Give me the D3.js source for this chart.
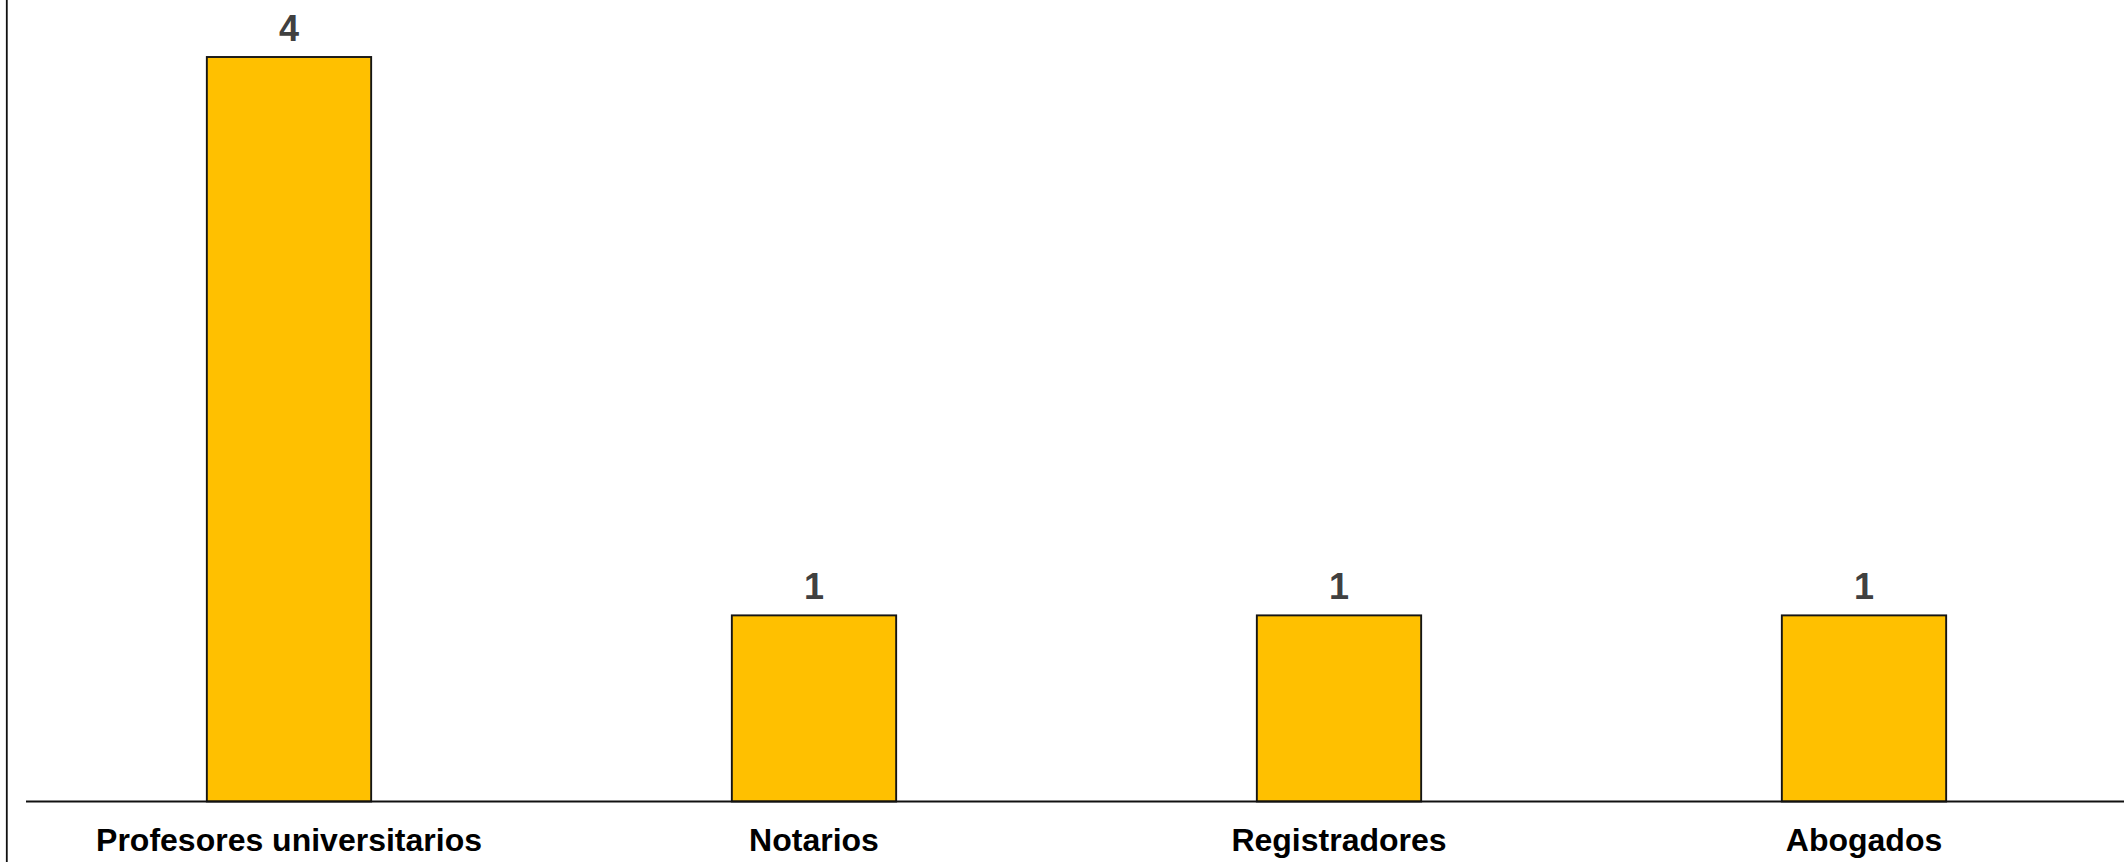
<!DOCTYPE html>
<html>
<head>
<meta charset="utf-8">
<script src="https://cdn.jsdelivr.net/npm/d3@7"></script>
<style>
  html, body { margin: 0; padding: 0; background: #ffffff; }
  svg { display: block; }
</style>
</head>
<body>
<div id="chart"></div>
<script>
const categories = ["Profesores universitarios", "Notarios", "Registradores", "Abogados"];
const values = [4, 1, 1, 1];

const W = 2124, H = 862;
const axisY = 801.5, topY = 57;

const svg = d3.select("#chart").append("svg")
  .attr("width", W).attr("height", H);

const x = d3.scaleBand()
  .domain(categories)
  .range([26.5, 2126.5])
  .paddingInner(0.687)
  .paddingOuter(0.3435);

const y = d3.scaleLinear()
  .domain([0, 4])
  .range([axisY, topY]);

// left frame line
svg.append("line")
  .attr("x1", 6.8).attr("x2", 6.8)
  .attr("y1", 0).attr("y2", H)
  .attr("stroke", "#111").attr("stroke-width", 1.8);

// bars
svg.selectAll("rect.bar")
  .data(values)
  .join("rect")
  .attr("class", "bar")
  .attr("x", (d, i) => x(categories[i]))
  .attr("y", d => y(d))
  .attr("width", x.bandwidth())
  .attr("height", d => y(0) - y(d))
  .attr("fill", "#FFC000")
  .attr("stroke", "#151515")
  .attr("stroke-width", 1.9);

// value labels
svg.selectAll("text.val")
  .data(values)
  .join("text")
  .attr("class", "val")
  .attr("x", (d, i) => x(categories[i]) + x.bandwidth() / 2)
  .attr("y", d => y(d) - 16)
  .attr("text-anchor", "middle")
  .attr("font-family", "'Liberation Sans', Arial, sans-serif")
  .attr("font-weight", "bold")
  .attr("font-size", 36)
  .attr("fill", "#404040")
  .text(d => d);

// x axis
const axis = d3.axisBottom(x).tickSize(0).tickSizeOuter(0).tickPadding(26.5);
const g = svg.append("g")
  .attr("transform", `translate(0,${axisY})`)
  .call(axis);
g.select(".domain").remove();
g.append("line")
  .attr("x1", 26).attr("x2", W)
  .attr("y1", 0).attr("y2", 0)
  .attr("stroke", "#111").attr("stroke-width", 2);
g.selectAll(".tick text")
  .attr("font-family", "'Liberation Sans', Arial, sans-serif")
  .attr("font-weight", "bold")
  .attr("font-size", 32)
  .attr("fill", "#000");
</script>
</body>
</html>
